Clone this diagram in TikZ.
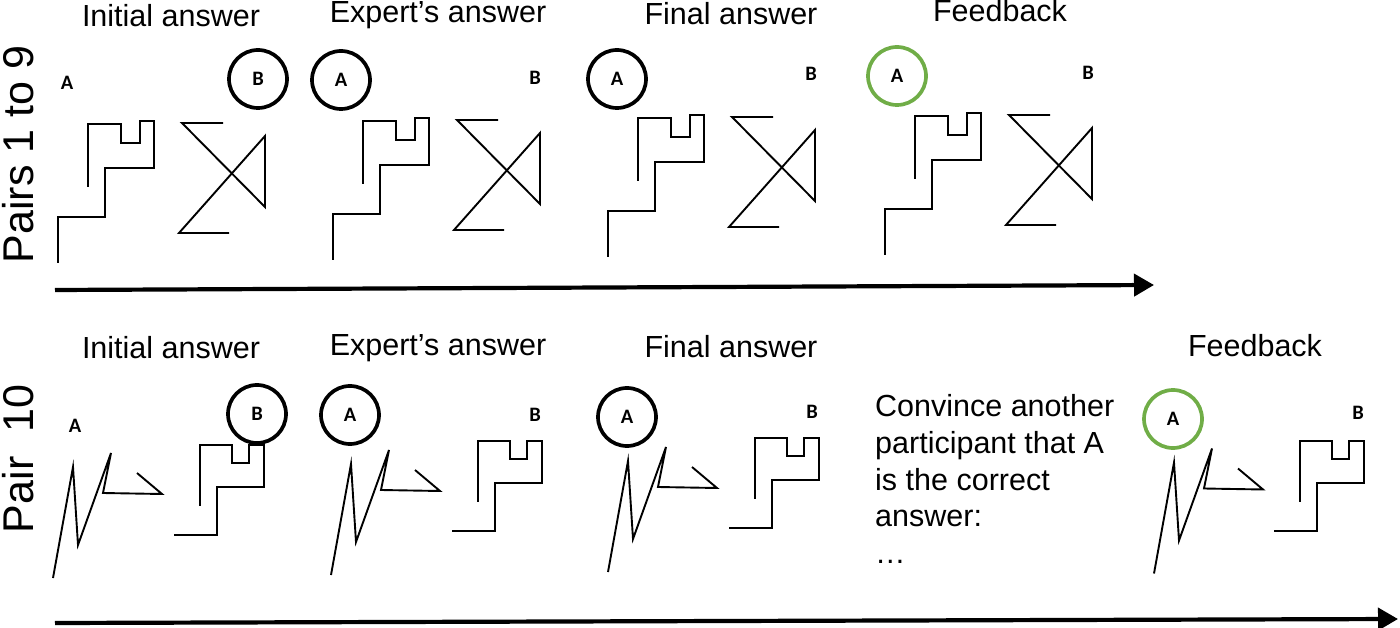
\documentclass[tikz,border=0pt]{standalone}
\usepackage{fontspec}
\setmainfont{Liberation Sans}
\newfontfamily\choicefont{Carlito}
\usetikzlibrary{arrows.meta}
\definecolor{okgreen}{RGB}{112,173,71}
\begin{document}
\begin{tikzpicture}[x=1pt, y=-1pt,
    figline/.style={line width=1.9pt},
    choice/.style={font=\choicefont\bfseries\fontsize{20.5}{24}\selectfont, inner sep=0pt},
    picked/.style={choice, circle, draw, line width=3.7pt, minimum size=58pt},
    correct/.style={picked, draw=okgreen},
    steptitle/.style={font=\fontsize{30.5}{36.6}\selectfont, anchor=base, inner sep=0pt},
    rowlabel/.style={font=\fontsize{43}{50}\selectfont, rotate=90, anchor=base, inner sep=0pt},
    timeline/.style={line width=4.2pt, -{Triangle[length=20pt, width=22pt]}}]
    \useasboundingbox (0,0) rectangle (1400,628);
    \node[rowlabel] (row1) at (33,154.5) {Pairs 1 to 9};
    \node[rowlabel] (row2) at (33,459) {Pair\ \ 10};
    \node[steptitle] (init1) at (171,27) {Initial answer};
    \node[steptitle] (exp1) at (438,23) {Expert’s answer};
    \node[steptitle] (fin1) at (731,25) {Final answer};
    \node[steptitle] (fb1) at (1000,22) {Feedback};
    \node[choice] (initA1) at (67,83) {A};
    \node[picked] (initB1) at (258,79) {B};
    \node[picked] (expA1) at (341,80) {A};
    \node[choice] (expB1) at (535,78) {B};
    \node[picked] (finA1) at (617,79) {A};
    \node[choice] (finB1) at (811,74) {B};
    \node[correct] (fbA1) at (897,76) {A};
    \node[choice] (fbB1) at (1088,73) {B};
    \draw[figline] (58,263) -- (58,217) -- (105,217) -- (105,168) -- (154,168) -- (154,121) -- (140,121) -- (140,143) -- (121,143) -- (121,124) -- (88,124) -- (88,187);
    \draw[figline] (223,123) -- (182,123) -- (265,207) -- (265,136) -- (179,233) -- (229,233);
    \draw[figline, shift={(275,-3)}] (58,263) -- (58,217) -- (105,217) -- (105,168) -- (154,168) -- (154,121) -- (140,121) -- (140,143) -- (121,143) -- (121,124) -- (88,124) -- (88,187);
    \draw[figline, shift={(275,-3)}] (223,123) -- (182,123) -- (265,207) -- (265,136) -- (179,233) -- (229,233);
    \draw[figline, shift={(550,-6)}] (58,263) -- (58,217) -- (105,217) -- (105,168) -- (154,168) -- (154,121) -- (140,121) -- (140,143) -- (121,143) -- (121,124) -- (88,124) -- (88,187);
    \draw[figline, shift={(550,-6)}] (223,123) -- (182,123) -- (265,207) -- (265,136) -- (179,233) -- (229,233);
    \draw[figline, shift={(827,-8)}] (58,263) -- (58,217) -- (105,217) -- (105,168) -- (154,168) -- (154,121) -- (140,121) -- (140,143) -- (121,143) -- (121,124) -- (88,124) -- (88,187);
    \draw[figline, shift={(827,-8)}] (223,123) -- (182,123) -- (265,207) -- (265,136) -- (179,233) -- (229,233);
    \coordinate (start1) at (55,290);
    \coordinate (end1) at (1154,285);
    \draw[timeline] (start1) -- (end1);
    \node[steptitle] (init2) at (171,358) {Initial answer};
    \node[steptitle] (exp2) at (438,355) {Expert’s answer};
    \node[steptitle] (fin2) at (731,357) {Final answer};
    \node[steptitle] (fb2) at (1255,356) {Feedback};
    \node[anchor=north west, align=left, inner sep=0pt, font=\fontsize{30.5}{36.6}\selectfont] (convince) at (875,394.5) {Convince another\\participant that A\\is the correct\\answer:\\…};
    \node[choice] (initA2) at (75,426) {A};
    \node[picked] (initB2) at (257,414) {B};
    \node[picked] (expA2) at (350,415) {A};
    \node[choice] (expB2) at (535,415) {B};
    \node[picked] (finA2) at (627,417) {A};
    \node[choice] (finB2) at (812,412) {B};
    \node[correct] (fbA2) at (1173,419) {A};
    \node[choice] (fbB2) at (1358,413) {B};
    \draw[figline] (53,578) -- (73,467) -- (78,545) -- (111,453) -- (103,493) -- (162,494) -- (137,473);
    \draw[figline] (174,535) -- (217,535) -- (217,487) -- (264,487) -- (264,445) -- (249,445) -- (249,463) -- (232,463) -- (232,445) -- (200,445) -- (200,506);
    \draw[figline, shift={(278,-3)}] (53,578) -- (73,467) -- (78,545) -- (111,453) -- (103,493) -- (162,494) -- (137,473);
    \draw[figline, shift={(278,-4)}] (174,535) -- (217,535) -- (217,487) -- (264,487) -- (264,445) -- (249,445) -- (249,463) -- (232,463) -- (232,445) -- (200,445) -- (200,506);
    \draw[figline, shift={(555,-6)}] (53,578) -- (73,467) -- (78,545) -- (111,453) -- (103,493) -- (162,494) -- (137,473);
    \draw[figline, shift={(555,-7)}] (174,535) -- (217,535) -- (217,487) -- (264,487) -- (264,445) -- (249,445) -- (249,463) -- (232,463) -- (232,445) -- (200,445) -- (200,506);
    \draw[figline, shift={(1101,-4.5)}] (53,578) -- (73,467) -- (78,545) -- (111,453) -- (103,493) -- (162,494) -- (137,473);
    \draw[figline, shift={(1100,-4)}] (174,535) -- (217,535) -- (217,487) -- (264,487) -- (264,445) -- (249,445) -- (249,463) -- (232,463) -- (232,445) -- (200,445) -- (200,506);
    \coordinate (start2) at (55,623);
    \coordinate (end2) at (1398,619);
    \draw[timeline] (start2) -- (end2);
\end{tikzpicture}
\end{document}
